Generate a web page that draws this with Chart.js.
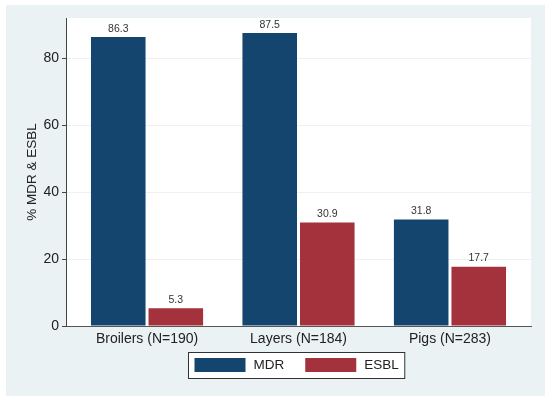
<!DOCTYPE html>
<html>
<head>
<meta charset="utf-8">
<script src="https://cdn.jsdelivr.net/npm/chart.js@4"></script>
<style>
  html, body { margin: 0; padding: 0; background: #fff; }
</style>
</head>
<body>
<canvas id="chart-bar" width="550" height="399"></canvas>
<script>
const categories = ["Broilers (N=190)", "Layers (N=184)", "Pigs (N=283)"];
const seriesNames = ["MDR", "ESBL"];
const mdrValues = [86.3, 87.5, 31.8];
const esblValues = [5.3, 30.9, 17.7];
const yTicks = [0, 20, 40, 60, 80];

const FONT = "'Liberation Sans', Arial, sans-serif";
const NAVY = "#14456f";
const MAROON = "#a4323d";

// stata-ish background: white edge, light panel, white plot region
const backgroundPlugin = {
  id: "background",
  beforeDraw(chart) {
    const { ctx, chartArea } = chart;
    ctx.save();
    ctx.fillStyle = "#ffffff";
    ctx.fillRect(0, 0, chart.width, chart.height);
    ctx.fillStyle = "#eaf2f3";
    ctx.fillRect(6, 5, 539, 391);
    ctx.fillStyle = "#ffffff";
    ctx.fillRect(chartArea.left, chartArea.top, chartArea.right - chartArea.left, chartArea.bottom - chartArea.top);
    ctx.restore();
  },
};

const valueLabels = {
  id: "valueLabels",
  afterDatasetsDraw(chart) {
    const { ctx } = chart;
    ctx.save();
    ctx.font = "10.5px " + FONT;
    ctx.fillStyle = "#333";
    ctx.textAlign = "center";
    ctx.textBaseline = "bottom";
    chart.data.datasets.forEach((ds, i) => {
      chart.getDatasetMeta(i).data.forEach((bar, j) => {
        ctx.fillText(ds.data[j].y.toFixed(1), bar.x, bar.y - 3);
      });
    });
    ctx.restore();
  },
};

// legend with a frame around it, like the stata one
const boxLegend = {
  id: "boxLegend",
  afterDraw(chart) {
    const { ctx, chartArea } = chart;
    const sw = 51, sh = 14, gap = 8, itemGap = 21, pad = 6;
    ctx.save();
    ctx.font = "13.5px " + FONT;
    const items = chart.data.datasets.map((ds) => ({
      label: ds.label,
      color: ds.backgroundColor,
      w: ctx.measureText(ds.label).width,
    }));
    let total = pad * 2 + itemGap * (items.length - 1);
    items.forEach((it) => (total += sw + gap + it.w));
    const top = 352, h = 26;
    let x = Math.round((chartArea.left + chartArea.right) / 2 - total / 2) - 1.5;
    ctx.fillStyle = "#fff";
    ctx.fillRect(x, top + 0.5, total, h);
    ctx.strokeStyle = "#333";
    ctx.lineWidth = 1;
    ctx.strokeRect(x, top + 0.5, total, h);
    x += pad;
    ctx.textBaseline = "middle";
    items.forEach((it) => {
      ctx.fillStyle = it.color;
      ctx.fillRect(x, top + 6, sw, sh);
      x += sw + gap;
      ctx.fillStyle = "#222";
      ctx.fillText(it.label, x, top + 13.5);
      x += it.w + itemGap;
    });
    ctx.restore();
  },
};

const toPoints = (arr) => arr.map((v, i) => ({ x: i, y: v }));

const data = {
  datasets: [
    { label: seriesNames[0], data: toPoints(mdrValues), backgroundColor: NAVY },
    { label: seriesNames[1], data: toPoints(esblValues), backgroundColor: MAROON },
  ],
};

const config = {
  type: "bar",
  data: data,
  options: {
    responsive: false,
    animation: false,
    layout: { padding: { top: 18, right: 19, left: 0, bottom: 0 } },
    datasets: {
      bar: { categoryPercentage: 0.76, barPercentage: 0.948, borderWidth: 0 },
    },
    plugins: {
      legend: { display: false },
      tooltip: { enabled: false },
    },
    scales: {
      x: {
        type: "linear",
        min: -0.535,
        max: 2.535,
        offset: false,
        grid: { display: false, drawTicks: false, offset: false },
        border: { color: "#555", width: 1 },
        ticks: {
          font: { family: FONT, size: 14 },
          color: "#222",
          padding: 5,
          autoSkip: false,
          maxRotation: 0,
          callback: (v) => categories[v],
        },
        afterBuildTicks(scale) {
          scale.ticks = categories.map((c, i) => ({ value: i }));
        },
        afterFit(scale) {
          scale.height = 73;
        },
      },
      y: {
        min: 0,
        max: 92,
        grid: { color: "#eaf2f3", tickColor: "#444", tickLength: 4 },
        border: { color: "#444", width: 1 },
        ticks: { font: { family: FONT, size: 14 }, color: "#222", padding: 3 },
        title: {
          display: true,
          text: "% MDR & ESBL",
          font: { family: FONT, size: 13.5 },
          color: "#222",
          padding: { top: 24, bottom: 0 },
        },
        afterBuildTicks(scale) {
          scale.ticks = yTicks.map((v) => ({ value: v }));
        },
        afterFit(scale) {
          scale.width = 66;
        },
      },
    },
  },
  plugins: [backgroundPlugin, valueLabels, boxLegend],
};

const barChart = new Chart(document.getElementById("chart-bar"), config);
</script>
</body>
</html>
